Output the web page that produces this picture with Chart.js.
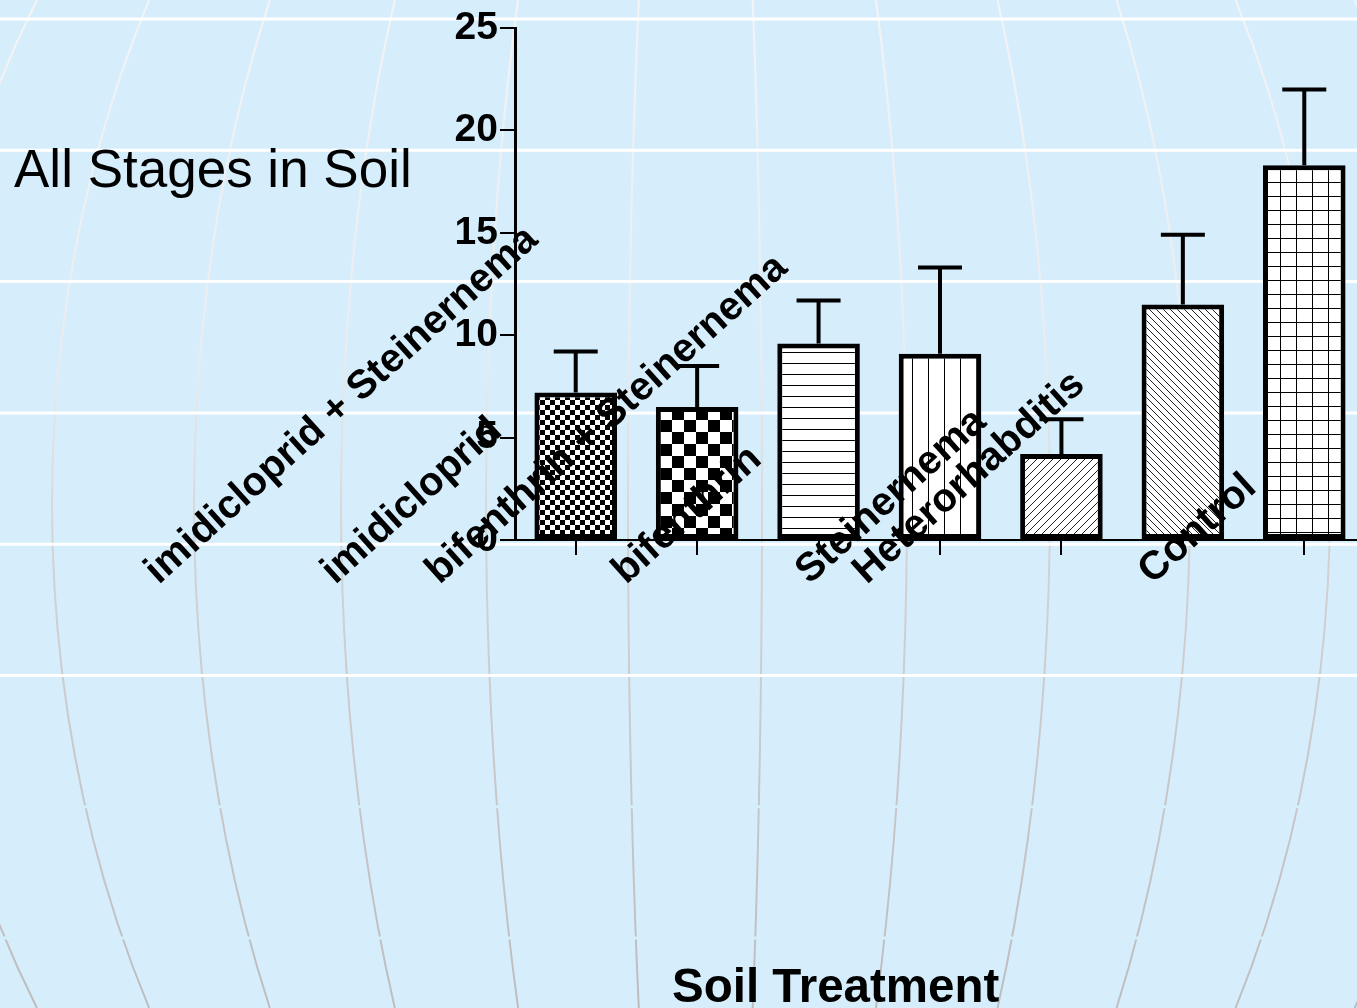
<!DOCTYPE html>
<html>
<head>
<meta charset="utf-8">
<script src="https://cdn.jsdelivr.net/npm/chart.js@4.4.1/dist/chart.umd.min.js"></script>
<style>
  html, body { margin: 0; padding: 0; overflow: hidden; background: #d6eefc; }
  #wrap { width: 1365px; height: 1008px; }
</style>
</head>
<body>
<div id="wrap"><canvas id="chart"></canvas></div>
<script>
const categories = ['imidicloprid + Steinernema', 'imidicloprid', 'bifenthrin + Steinernema', 'bifenthrin', 'Steinernema', 'Heterorhabditis', 'Control'];
const means = [7.2, 6.5, 9.6, 9.1, 4.2, 11.5, 18.3];
const sem = [2.0, 2.0, 2.1, 4.2, 1.7, 3.4, 3.7];
const yTicks = [0, 5, 10, 15, 20, 25];

// where each rotated label starts, relative to its tick (the source plot is offset like this)
const labelShift = [-417, -362, -379, -314, -252, -316, -152];
const labelDrop = 45;
const labelAngle = 42;

const FONT = "'Liberation Sans', Arial, sans-serif";
const BG = '#d6eefc';
const meridians = [-920, -780, -648, -506, -359, -214, -72, 62, 207, 350, 490, 630, 770];

function tile(w, h, draw) {
  const c = document.createElement('canvas');
  c.width = w;
  c.height = h;
  const g = c.getContext('2d');
  g.fillStyle = '#fff';
  g.fillRect(0, 0, w, h);
  g.fillStyle = '#000';
  g.strokeStyle = '#222';
  g.lineWidth = 1;
  draw(g, w, h);
  return g.createPattern(c, 'repeat');
}

function diag(dir) {
  return (g, w, h) => {
    for (const k of [-1, 0, 1]) {
      g.beginPath();
      if (dir > 0) { g.moveTo(k * w, h); g.lineTo(k * w + w, 0); }
      else { g.moveTo(k * w, 0); g.lineTo(k * w + w, h); }
      g.stroke();
    }
  };
}

const patterns = [
  tile(10, 10, g => { g.fillRect(0, 0, 5, 5); g.fillRect(5, 5, 5, 5); }),
  tile(24, 24, g => { g.fillRect(0, 0, 12, 12); g.fillRect(12, 12, 12, 12); }),
  tile(4, 11, g => g.fillRect(0, 0, 4, 1)),
  tile(16, 4, g => g.fillRect(0, 0, 1, 4)),
  tile(8, 8, diag(1)),
  tile(7, 7, diag(-1)),
  tile(16, 14, g => { g.fillRect(0, 0, 16, 1); g.fillRect(0, 0, 1, 14); }),
];

const globePlugin = {
  id: 'globe',
  beforeDraw(chart) {
    const { ctx, width, height } = chart;
    ctx.save();
    ctx.fillStyle = BG;
    ctx.fillRect(0, 0, width, height);

    const cx = 700, cy = 504, R = 957;
    const grad = ctx.createLinearGradient(0, 0, 0, height);
    grad.addColorStop(0, '#f4f4f4');
    grad.addColorStop(0.35, '#ececec');
    grad.addColorStop(0.55, '#d2d2d2');
    grad.addColorStop(1, '#bdbdbd');
    ctx.strokeStyle = grad;
    ctx.lineWidth = 2;
    for (const a of meridians) {
      ctx.beginPath();
      for (let y = 0; y <= height; y += 42) {
        const t = (y - cy) / R;
        const x = cx + a * Math.sqrt(1 - t * t);
        if (y === 0) ctx.moveTo(x, y); else ctx.lineTo(x, y);
      }
      ctx.stroke();
    }

    ctx.lineWidth = 3;
    for (let k = 0; k < 8; k++) {
      const y = 19 + 131.3 * k;
      ctx.strokeStyle = k < 6 ? '#ffffff' : BG;
      ctx.beginPath();
      ctx.moveTo(0, y);
      ctx.lineTo(width, y);
      ctx.stroke();
    }
    ctx.restore();
  }
};

const errorBarPlugin = {
  id: 'errorBars',
  afterDatasetsDraw(chart) {
    const { ctx } = chart;
    const yScale = chart.scales.y;
    const meta = chart.getDatasetMeta(0);
    ctx.save();
    ctx.strokeStyle = '#000';
    ctx.lineWidth = 4;
    meta.data.forEach((bar, i) => {
      const top = yScale.getPixelForValue(means[i] + sem[i]);
      ctx.beginPath();
      ctx.moveTo(bar.x, bar.y);
      ctx.lineTo(bar.x, top);
      ctx.moveTo(bar.x - 22, top);
      ctx.lineTo(bar.x + 22, top);
      ctx.stroke();
    });
    ctx.restore();
  }
};

const textPlugin = {
  id: 'texts',
  afterDraw(chart) {
    const { ctx } = chart;
    const xScale = chart.scales.x;
    ctx.save();
    ctx.fillStyle = '#000';
    ctx.textBaseline = 'alphabetic';
    ctx.textAlign = 'left';

    ctx.font = `bold 40px ${FONT}`;
    categories.forEach((label, i) => {
      const x = xScale.getPixelForTick(i) + labelShift[i];
      const y = xScale.top + labelDrop;
      ctx.save();
      ctx.translate(x, y);
      ctx.rotate(-labelAngle * Math.PI / 180);
      ctx.fillText(label, 0, 0);
      ctx.restore();
    });

    ctx.font = `53px ${FONT}`;
    ctx.fillText('All Stages in Soil', 14, 187);

    ctx.font = `bold 47.5px ${FONT}`;
    ctx.fillText('Soil Treatment', 672, 1002);
    ctx.restore();
  }
};

new Chart(document.getElementById('chart'), {
  type: 'bar',
  plugins: [globePlugin, errorBarPlugin, textPlugin],
  data: {
    labels: categories,
    datasets: [{
      data: means,
      backgroundColor: patterns,
      borderColor: '#000',
      borderWidth: 5,
      borderSkipped: false,
      barPercentage: 0.68,
      categoryPercentage: 1,
    }]
  },
  options: {
    responsive: true,
    maintainAspectRatio: false,
    animation: false,
    layout: { padding: { top: 28, left: 0, right: 0, bottom: 0 } },
    plugins: {
      legend: { display: false },
      tooltip: { enabled: false },
      title: { display: false },
    },
    scales: {
      x: {
        afterFit(scale) { scale.height = 468; },
        ticks: { display: false },
        grid: { display: true, drawOnChartArea: false, offset: false, tickLength: 15, color: '#000', lineWidth: 2 },
        border: { display: true, color: '#000', width: 2 },
      },
      y: {
        min: 0,
        max: 25,
        afterFit(scale) { scale.width = 515; },
        afterBuildTicks(scale) { scale.ticks = yTicks.map(v => ({ value: v })); },
        ticks: { color: '#000', padding: 2, font: { family: FONT, size: 39, weight: 'bold' } },
        grid: { display: true, drawOnChartArea: false, tickLength: 15, color: '#000', lineWidth: 2 },
        border: { display: true, color: '#000', width: 3 },
      }
    }
  }
});
</script>
</body>
</html>
